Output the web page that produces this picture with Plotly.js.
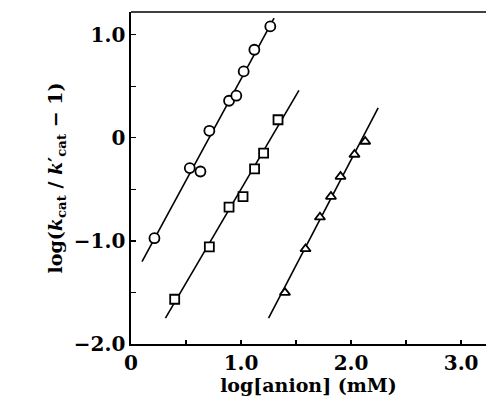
<!DOCTYPE html>
<html>
<head>
<meta charset="utf-8">
<script src="https://cdn.plot.ly/plotly-3.0.1.min.js"></script>
<style>html,body{margin:0;padding:0;background:#fff;}#plot{width:486px;height:396px;}</style>
</head>
<body>
<div id="plot"></div>
<script>
// Circles series
const circleX = [0.213, 0.534, 0.631, 0.712, 0.891, 0.957, 1.024, 1.121, 1.266];
const circleY = [-0.974, -0.294, -0.327, 0.068, 0.359, 0.408, 0.644, 0.854, 1.08];
const circleFitX = [0.10, 1.30];
const circleFitY = [-1.20, 1.16];
// Squares series
const squareX = [0.397, 0.712, 0.891, 1.018, 1.123, 1.205, 1.336];
const squareY = [-1.566, -1.058, -0.673, -0.57, -0.301, -0.149, 0.175];
const squareFitX = [0.313, 1.526];
const squareFitY = [-1.75, 0.459];
// Triangles series
const triX = [1.399, 1.586, 1.717, 1.817, 1.904, 2.031, 2.128];
const triY = [-1.502, -1.078, -0.77, -0.57, -0.376, -0.162, -0.036];
const triFitX = [1.25, 2.246];
const triFitY = [-1.75, 0.291];
// Tick labels
const xTickVals = [0, 1, 2, 3];
const xTickText = ['0', '1.0', '2.0', '3.0'];
const yTickVals = [-2, -1, 0, 1];
const yTickText = ['\u22122.0', '\u22121.0', '0', '1.0'];

const font = 'DejaVu Serif, serif';
const lineStyle = {color: '#000', width: 1.6};
function fit(x, y) {
  return {x: x, y: y, type: 'scatter', mode: 'lines', line: lineStyle, hoverinfo: 'skip', showlegend: false};
}
function pts(x, y, sym, size) {
  return {x: x, y: y, type: 'scatter', mode: 'markers', showlegend: false,
    marker: {symbol: sym, size: size, color: '#fff', line: {color: '#000', width: 1.8}}, cliponaxis: false};
}
const data = [
  fit(circleFitX, circleFitY), fit(squareFitX, squareFitY), fit(triFitX, triFitY),
  pts(circleX, circleY, 'circle', 10),
  pts(squareX, squareY, 'square', 9),
  pts(triX, triY, 'triangle-up', 9)
];
const tf = {family: font, size: 20, weight: 'bold', color: '#000'};
const af = {family: font, size: 19, weight: 'bold', color: '#000'};
const layout = {
  width: 486, height: 396,
  margin: {l: 131, r: 0, t: 12, b: 52},
  paper_bgcolor: '#fff', plot_bgcolor: '#fff',
  font: {family: font, color: '#000', size: 19, weight: 'bold'},
  xaxis: {
    range: [0, 3.226], tickvals: xTickVals, ticktext: xTickText,
    ticks: 'inside', ticklen: 4, tickwidth: 1.3, tickcolor: '#000',
    minor: {dtick: 0.5, tick0: 0, ticks: 'inside', ticklen: 4, tickwidth: 1.3, tickcolor: '#000', showgrid: false},
    showline: true, linecolor: '#000', linewidth: 1.6, mirror: false,
    showgrid: false, zeroline: false,
    tickfont: tf,
    title: {text: 'log[anion] (mM)', font: af, standoff: 0}
  },
  yaxis: {
    range: [-2, 1.22], tickvals: yTickVals, ticktext: yTickText,
    ticks: 'inside', ticklen: 5, tickwidth: 1.3, tickcolor: '#000',
    minor: {dtick: 0.5, tick0: 0, ticks: 'inside', ticklen: 5, tickwidth: 1.3, tickcolor: '#000', showgrid: false},
    showline: true, linecolor: '#000', linewidth: 1.6,
    showgrid: false, zeroline: false,
    tickfont: tf,
    title: {text: 'log(<i>k</i><sub>cat</sub> / <i>k</i>\u2032<sub>cat</sub> \u2212 1)', font: af, standoff: 6}
  },
  shapes: [
    {type: 'line', xref: 'paper', yref: 'paper', x0: 0, x1: 1, y0: 1, y1: 1, line: {color: '#000', width: 1.6}}
  ]
};
Plotly.newPlot('plot', data, layout, {staticPlot: true, displayModeBar: false});
</script>
</body>
</html>
